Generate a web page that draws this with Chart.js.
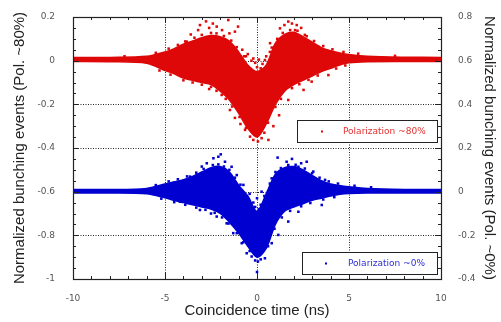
<!DOCTYPE html>
<html><head><meta charset="utf-8">
<script src="https://cdn.jsdelivr.net/npm/chart.js@4/dist/chart.umd.min.js"></script>
<style>html,body{margin:0;padding:0;background:#fff;}#wrap{width:501px;height:322px;}</style>
</head><body><div id="wrap"><canvas id="c" width="501" height="322"></canvas></div>
<script>
// ---- data ----
const xTicks = [-10, -5, 0, 5, 10];
const yLeftTicks = [-1, -0.8, -0.6, -0.4, -0.2, 0, 0.2];
const yRightTicks = [-0.4, -0.2, 0, 0.2, 0.4, 0.6, 0.8];
const seriesNames = ['Polarization ~80%', 'Polarization ~0%'];

// dense core of each point cloud (envelope), coincidence time in ns
const timeNs      = [-10, -8, -6, -5, -4.5, -4, -3.5, -3, -2.5, -2, -1.5, -1, -0.5, 0, 0.5, 1, 1.5, 2, 2.5, 3, 3.5, 4, 4.5, 5, 6, 8, 10];
const red80Upper  = [0.014, 0.015, 0.02, 0.04, 0.055, 0.075, 0.09, 0.105, 0.115, 0.11, 0.09, 0.04, -0.02, -0.05, -0.02, 0.08, 0.12, 0.13, 0.11, 0.085, 0.06, 0.045, 0.035, 0.028, 0.02, 0.016, 0.015];
const red80Lower  = [-0.004, -0.005, -0.012, -0.045, -0.06, -0.08, -0.09, -0.1, -0.11, -0.14, -0.18, -0.24, -0.31, -0.35, -0.29, -0.2, -0.14, -0.11, -0.09, -0.07, -0.05, -0.035, -0.02, -0.01, -0.005, -0.004, -0.004];
const blue0Upper  = [0.01, 0.01, 0.015, 0.035, 0.045, 0.055, 0.07, 0.09, 0.11, 0.115, 0.09, 0.03, -0.02, -0.09, -0.01, 0.08, 0.11, 0.115, 0.1, 0.075, 0.05, 0.035, 0.028, 0.022, 0.014, 0.01, 0.01];
const blue0Lower  = [-0.006, -0.006, -0.01, -0.028, -0.04, -0.05, -0.06, -0.07, -0.08, -0.1, -0.14, -0.19, -0.25, -0.3, -0.26, -0.15, -0.09, -0.07, -0.055, -0.04, -0.03, -0.02, -0.012, -0.008, -0.006, -0.006, -0.006];

// scattered outlying points (time ns, value)
const red80OutT = [-3.1, -2.77, -1.56, -2.19, -3.82, -1.03, -1.2, -3.2, -2.4, -1.9, -2.6, -3.6, -1.5, -0.8,
  -4.18, -3.28, -2.1, -1.92, -1.47, -1.2, -0.65, -0.2, -0.38, -2.6, -0.9,
  -0.3, -0.1, 0.1, 0.3, 0.0, -0.2, 0.2, 0.5, -0.6, 0.7, -0.5, 0.05,
  1.49, 1.7, 2.16, 2.07, 1.25, 0.71, 0.43, 2.6, 3.33, 1.9, 2.4,
  2.53, 1.7, 0.89, 0.62, 0.25, 2.97, 3.88, 1.2, 0.4, 7.5, -7.2,
  -4.8, -4.3, -3.9, -3.4, -3.0, -2.5, -2.2, -1.8, -1.4, -1.1, -0.7, 0.8, 1.1, 1.4, 1.8, 2.2, 2.7, 3.1, 3.6, 4.1, 4.7, 5.5, -5.5,
  -5.3, -4.7, -4.0, -3.5, -3.0, -2.5, -2.2, -1.7, -1.35, -0.95, -0.6, 0.6, 1.0, 1.3, 1.9, 2.3, 2.8, 3.3, 4.3, 4.8];
const red80OutV = [0.163, 0.18, 0.186, 0.156, 0.087, 0.156, 0.133, 0.14, 0.17, 0.14, 0.15, 0.12, 0.125, 0.05,
  -0.065, -0.088, -0.127, -0.157, -0.226, -0.262, -0.317, -0.363, -0.348, -0.13, -0.29,
  0.0, -0.01, 0.005, -0.015, -0.03, 0.01, -0.035, 0.02, 0.02, 0.04, 0.03, -0.37,
  0.163, 0.179, 0.163, 0.14, 0.148, 0.08, 0.003, 0.118, 0.064, 0.17, 0.15,
  -0.134, -0.18, -0.30, -0.363, -0.355, -0.096, -0.066, -0.25, -0.33, 0.022, 0.02,
  0.055, 0.072, 0.088, 0.105, 0.118, 0.127, 0.125, 0.113, 0.092, 0.062, 0.02, 0.06, 0.1, 0.127, 0.14, 0.137, 0.112, 0.09, 0.067, 0.052, 0.04, 0.032, 0.036,
  -0.045, -0.064, -0.09, -0.1, -0.11, -0.12, -0.138, -0.175, -0.21, -0.258, -0.308, -0.284, -0.212, -0.175, -0.126, -0.108, -0.088, -0.068, -0.036, -0.022];
const blue0OutT = [-1.97, -2.37, -1.74, -1.38, -2.73, -3.64, -4.64, -1.1, -0.74, -2.1, -3.0,
  -4.18, -3.1, -2.19, -1.65, -1.29, -0.83, -0.56, -0.29, -2.5,
  0.0, 0.05, -0.1, 0.2,
  1.12, 1.61, 2.7, 2.25, 3.06, 0.8, 0.25, 3.7, 1.9, 2.4,
  3.52, 2.25, 1.7, 1.16, 0.8, 0.43,
  0.0, -0.2, 0.2, 0.4, -0.4, 0.1, -0.1, 0.3, -0.3, 0.6,
  -5.5, -4.8, -4.3, -3.8, -3.3, -2.9, -2.4, -2.1, -1.8, -1.5, -1.2, -0.9, 0.7, 1.0, 1.3, 1.7, 2.1, 2.6, 3.0, 3.4, 3.9, 4.4, 5.3, 6.2,
  -5.2, -4.5, -3.9, -3.3, -2.8, -2.3, -1.9, -1.55, -1.1, -0.75, -0.4, 0.6, 0.95, 1.35, 1.8, 2.4, 2.9, 3.6, 4.2];
const blue0OutV = [0.171, 0.153, 0.137, 0.114, 0.13, 0.069, 0.038, 0.076, 0.031, 0.16, 0.115,
  -0.046, -0.084, -0.114, -0.145, -0.19, -0.236, -0.282, -0.297, -0.1,
  -0.368, -0.32, -0.315, -0.31,
  0.156, 0.137, 0.137, 0.114, 0.092, 0.061, 0.0, 0.054, 0.15, 0.13,
  -0.061, -0.092, -0.137, -0.198, -0.236, -0.305,
  -0.03, -0.05, -0.06, -0.02, -0.01, -0.08, -0.07, -0.1, -0.07, 0.0,
  0.03, 0.047, 0.057, 0.07, 0.087, 0.104, 0.122, 0.125, 0.115, 0.1, 0.064, 0.032, 0.037, 0.09, 0.108, 0.122, 0.123, 0.106, 0.085, 0.064, 0.047, 0.037, 0.027, 0.02,
  -0.032, -0.048, -0.06, -0.073, -0.083, -0.097, -0.118, -0.146, -0.19, -0.232, -0.272, -0.25, -0.17, -0.118, -0.088, -0.067, -0.052, -0.036, -0.025];

const RED = 'rgb(222,8,8)';
const BLUE = 'rgb(0,0,208)';

function pts(xs, ys) { return xs.map((x, i) => ({x: x, y: ys[i]})); }

const decor = {
  id: 'decor',
  beforeDatasetsDraw(chart) {
    const {ctx, chartArea: a, scales} = chart;
    ctx.save();
    ctx.strokeStyle = '#222';
    ctx.lineWidth = 1;
    ctx.setLineDash([1, 1.5]);
    xTicks.slice(1, -1).forEach(v => {
      const px = Math.round(scales.x.getPixelForValue(v)) + 0.5;
      ctx.beginPath(); ctx.moveTo(px, a.top); ctx.lineTo(px, a.bottom); ctx.stroke();
    });
    yLeftTicks.slice(1, -1).forEach(v => {
      const py = Math.round(scales.y.getPixelForValue(v)) + 0.5;
      ctx.beginPath(); ctx.moveTo(a.left, py); ctx.lineTo(a.right, py); ctx.stroke();
    });
    ctx.restore();
  },
  afterDatasetsDraw(chart) {
    const {ctx, chartArea: a, scales} = chart;
    ctx.save();
    ctx.setLineDash([]);
    ctx.strokeStyle = '#222';
    ctx.lineWidth = 1;
    const xs = scales.x, yl = scales.y, yr = scales.y2;
    for (let v = -10; v <= 10; v += 1) {
      const px = Math.round(xs.getPixelForValue(v)) + 0.5;
      const len = (v % 5 === 0) ? 6 : 3;
      ctx.beginPath();
      ctx.moveTo(px, a.bottom); ctx.lineTo(px, a.bottom - len);
      ctx.moveTo(px, a.top); ctx.lineTo(px, a.top + len);
      ctx.stroke();
    }
    for (let i = 0; i <= 24; i++) {
      const v = -1 + i * 0.05;
      const py = Math.round(yl.getPixelForValue(v)) + 0.5;
      const len = (i % 4 === 0) ? 6 : 3;
      ctx.beginPath(); ctx.moveTo(a.left, py); ctx.lineTo(a.left + len, py); ctx.stroke();
    }
    for (let i = 0; i <= 24; i++) {
      const v = -0.4 + i * 0.05;
      const py = Math.round(yr.getPixelForValue(v)) + 0.5;
      const len = (i % 4 === 0) ? 6 : 3;
      ctx.beginPath(); ctx.moveTo(a.right, py); ctx.lineTo(a.right - len, py); ctx.stroke();
    }
    ctx.lineWidth = 1.2;
    ctx.strokeRect(Math.round(a.left) + 0.5, Math.round(a.top) + 0.5, Math.round(a.right - a.left), Math.round(a.bottom - a.top));
    const boxes = [
      {x: a.right - 144, y: 120, w: 140, h: 22, color: RED, text: seriesNames[0], mx: 25, tx: 46},
      {x: a.right - 139, y: 252, w: 135, h: 22, color: BLUE, text: seriesNames[1], mx: 24, tx: 46}
    ];
    boxes.forEach(b => {
      ctx.fillStyle = '#fff';
      ctx.fillRect(b.x, b.y, b.w, b.h);
      ctx.strokeStyle = '#222';
      ctx.lineWidth = 1;
      ctx.strokeRect(b.x + 0.5, b.y + 0.5, b.w, b.h);
      ctx.fillStyle = b.color;
      ctx.fillRect(b.x + b.mx - 1, b.y + b.h / 2 - 0.5, 2, 2);
      ctx.font = '9px "DejaVu Sans"';
      ctx.textBaseline = 'middle';
      ctx.textAlign = 'left';
      ctx.globalAlpha = 0.85;
      ctx.fillText(b.text, b.x + b.tx, b.y + b.h / 2 + 1);
      ctx.globalAlpha = 1;
    });
    ctx.restore();
  }
};

const tickFont = {family: '"DejaVu Sans"', size: 9};
const titleFont = {family: '"Liberation Sans", Arial, sans-serif', size: 15};
const fmt = v => String(Math.round(v * 10) / 10);

new Chart(document.getElementById('c'), {
  data: {
    datasets: [
      {type: 'line', label: seriesNames[0] + ' core+', data: pts(timeNs, red80Upper), yAxisID: 'y',
       borderColor: RED, backgroundColor: RED, borderWidth: 1.5, pointRadius: 0, tension: 0.3, fill: '+1'},
      {type: 'line', label: seriesNames[0] + ' core-', data: pts(timeNs, red80Lower), yAxisID: 'y',
       borderColor: RED, backgroundColor: RED, borderWidth: 1.5, pointRadius: 0, tension: 0.3, fill: false},
      {type: 'line', label: seriesNames[1] + ' core+', data: pts(timeNs, blue0Upper), yAxisID: 'y2',
       borderColor: BLUE, backgroundColor: BLUE, borderWidth: 1.5, pointRadius: 0, tension: 0.3, fill: '+1'},
      {type: 'line', label: seriesNames[1] + ' core-', data: pts(timeNs, blue0Lower), yAxisID: 'y2',
       borderColor: BLUE, backgroundColor: BLUE, borderWidth: 1.5, pointRadius: 0, tension: 0.3, fill: false},
      {type: 'scatter', label: seriesNames[0], data: pts(red80OutT, red80OutV), yAxisID: 'y',
       pointStyle: 'rect', pointRadius: 1.8, backgroundColor: RED, borderWidth: 0},
      {type: 'scatter', label: seriesNames[1], data: pts(blue0OutT, blue0OutV), yAxisID: 'y2',
       pointStyle: 'rect', pointRadius: 1.8, backgroundColor: BLUE, borderWidth: 0}
    ]
  },
  options: {
    responsive: false,
    animation: false,
    layout: {padding: {top: 17, left: 0, right: 0, bottom: 0}},
    plugins: {legend: {display: false}, tooltip: {enabled: false}},
    scales: {
      x: {type: 'linear', position: 'bottom', min: -10, max: 10,
          afterBuildTicks: s => { s.ticks = xTicks.map(v => ({value: v})); },
          afterFit: s => { s.height = 43; },
          grid: {display: false}, border: {display: false},
          ticks: {font: tickFont, color: '#555', padding: 6, maxRotation: 0, callback: fmt},
          title: {display: true, text: 'Coincidence time (ns)', font: titleFont, color: '#222', padding: {top: 0, bottom: 2}}},
      y: {type: 'linear', position: 'left', min: -1, max: 0.2,
          afterBuildTicks: s => { s.ticks = yLeftTicks.map(v => ({value: v})); },
          afterFit: s => { s.width = 73; },
          grid: {display: false}, border: {display: false},
          ticks: {font: tickFont, color: '#555', padding: 10, callback: fmt},
          title: {display: true, text: 'Normalized bunching events (Pol. ~80%)', font: titleFont, color: '#222', padding: {top: 11, bottom: 0}}},
      y2: {type: 'linear', position: 'right', min: -0.4, max: 0.8,
          afterBuildTicks: s => { s.ticks = yRightTicks.map(v => ({value: v})); },
          afterFit: s => { s.width = 60; },
          grid: {display: false}, border: {display: false},
          ticks: {font: tickFont, color: '#555', padding: 9, callback: fmt},
          title: {display: true, text: 'Normalized bunching events (Pol. ~0%)', font: titleFont, color: '#222', padding: {top: 3, bottom: 0}}}
    }
  },
  plugins: [decor]
});
</script></body></html>
